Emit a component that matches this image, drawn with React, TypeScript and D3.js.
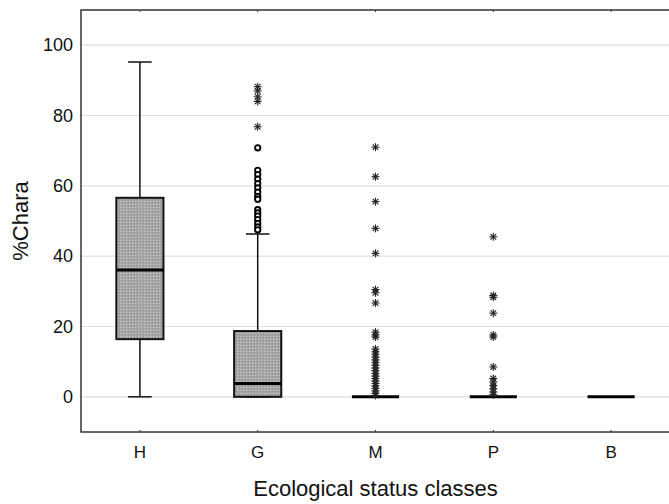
import React from "react";
import * as d3 from "d3";

const categories = ["H", "G", "M", "P", "B"];
const whiskerLow = [0, 0, 0, 0, 0];
const q1 = [16.4, 0, 0, 0, 0];
const median = [36.1, 3.8, 0, 0, 0];
const q3 = [56.6, 18.7, 0, 0, 0];
const whiskerHigh = [95.2, 46.3, 0, 0, 0];

// outliers (circles) and extremes (asterisks) per category
const outliersG = [70.8, 64.4, 63.2, 61.9, 60.6, 59.4, 58.2, 57.0, 56.2, 53.2, 52.3, 51.4, 50.4, 49.3, 48.3, 47.5];
const extremesG = [76.8, 84.0, 85.3, 87.0, 88.2];
const extremesM = [71.0, 62.6, 55.5, 47.9, 40.8, 30.5, 29.6, 26.7, 18.4, 17.6, 17.0, 13.6, 12.8, 12.1, 11.3, 10.5, 9.8, 9.0, 8.2, 7.4, 6.6, 5.9, 5.2, 4.5, 3.8, 3.1, 2.4, 1.7, 1.0, 0.4];
const extremesP = [45.5, 28.8, 28.3, 23.8, 17.6, 17.0, 8.5, 5.2, 4.2, 3.2, 2.3, 1.4, 0.6];

const outliers: Record<string, number[]> = { G: outliersG };
const extremes: Record<string, number[]> = { G: extremesG, M: extremesM, P: extremesP };

const yTicks = [0, 20, 40, 60, 80, 100];

const W = 669;
const H = 504;
const left = 81;
const right = 670;
const top = 10;
const bottom = 432;

export default function App() {
  const x = d3.scaleBand<string>().domain(categories).range([left, right]).padding(0);
  const y = d3.scaleLinear().domain([-10, 110]).range([bottom, top]);
  const bw = x.bandwidth() * 0.4;
  const cw = x.bandwidth() * 0.2;
  const font = "Arial, 'Liberation Sans', sans-serif";
  const cx = (c: string) => (x(c) as number) + x.bandwidth() / 2;

  const star = (px: number, py: number, key: string) => {
    const r = 4;
    const d = r * 0.7;
    return (
      <g key={key} stroke="#222" strokeWidth={1.1}>
        <line x1={px} y1={py - r} x2={px} y2={py + r} />
        <line x1={px - r} y1={py} x2={px + r} y2={py} />
        <line x1={px - d} y1={py - d} x2={px + d} y2={py + d} />
        <line x1={px - d} y1={py + d} x2={px + d} y2={py - d} />
      </g>
    );
  };

  return (
    <svg width={W} height={H} style={{ position: "absolute", left: 0, top: 0 }}>
      <defs>
        <pattern id="hatch" width="3" height="3" patternUnits="userSpaceOnUse">
          <rect width="3" height="3" fill="#a6a6a6" />
          <rect x="0" y="0" width="1" height="1" fill="#cfcfcf" />
          <rect x="2" y="1" width="1" height="1" fill="#8c8c8c" />
        </pattern>
      </defs>
      <rect width={W} height={H} fill="#fff" />
      {yTicks.map((t) => (
        <line key={"g" + t} x1={left} x2={right} y1={y(t)} y2={y(t)} stroke="#dedede" strokeWidth={1.2} />
      ))}
      {categories.map((c, i) => {
        const m = cx(c);
        return (
          <g key={c}>
            <line x1={m} x2={m} y1={y(whiskerHigh[i])} y2={y(q3[i])} stroke="#111" strokeWidth={1.5} />
            <line x1={m} x2={m} y1={y(q1[i])} y2={y(whiskerLow[i])} stroke="#111" strokeWidth={1.5} />
            {whiskerHigh[i] !== whiskerLow[i] && (
              <>
                <line x1={m - cw / 2} x2={m + cw / 2} y1={y(whiskerHigh[i])} y2={y(whiskerHigh[i])} stroke="#111" strokeWidth={1.5} />
                <line x1={m - cw / 2} x2={m + cw / 2} y1={y(whiskerLow[i])} y2={y(whiskerLow[i])} stroke="#111" strokeWidth={1.5} />
              </>
            )}
            {q3[i] !== q1[i] && (
              <rect x={m - bw / 2} y={y(q3[i])} width={bw} height={y(q1[i]) - y(q3[i])} fill="url(#hatch)" stroke="#111" strokeWidth={2} />
            )}
            <line x1={m - bw / 2} x2={m + bw / 2} y1={y(median[i])} y2={y(median[i])} stroke="#000" strokeWidth={3} />
            {(outliers[c] || []).map((v, j) => (
              <circle key={"o" + j} cx={m} cy={y(v)} r={2.7} fill="#fff" stroke="#000" strokeWidth={1.9} />
            ))}
            {(extremes[c] || []).map((v, j) => star(m, y(v), "e" + j))}
          </g>
        );
      })}
      <rect x={left} y={top} width={right - left} height={bottom - top} fill="none" stroke="#333" strokeWidth={1.5} />
      {categories.map((c) => (
        <g key={"t" + c}>
          <line x1={cx(c)} x2={cx(c)} y1={bottom} y2={bottom - 2} stroke="#333" />
          <line x1={cx(c)} x2={cx(c)} y1={top} y2={top + 2} stroke="#333" />
          <text x={cx(c)} y={458} textAnchor="middle" fontFamily={font} fontSize={17} fill="#111">
            {c}
          </text>
        </g>
      ))}
      {yTicks.map((t) => (
        <text key={"y" + t} x={73} y={y(t) + 6} textAnchor="end" fontFamily={font} fontSize={18} fill="#111">
          {t}
        </text>
      ))}
      <text x={(left + right) / 2} y={496} textAnchor="middle" fontFamily={font} fontSize={22} fill="#111">
        Ecological status classes
      </text>
      <text
        transform={`translate(28,${(top + bottom) / 2}) rotate(-90)`}
        textAnchor="middle"
        fontFamily={font}
        fontSize={22}
        fill="#111"
      >
        %Chara
      </text>
    </svg>
  );
}
